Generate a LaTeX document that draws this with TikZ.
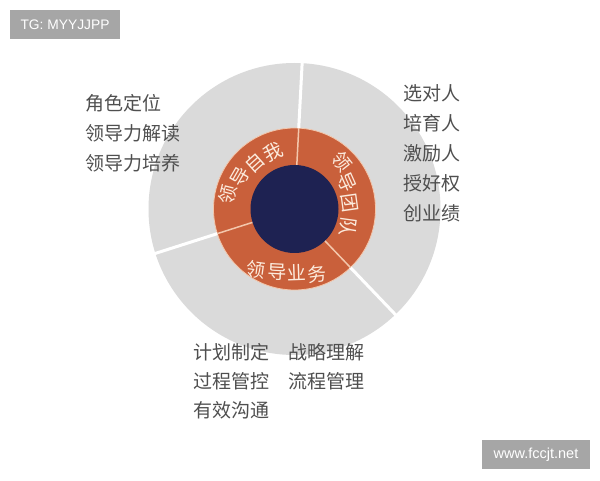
\documentclass[tikz,border=0pt]{standalone}
\usepackage{fontspec}
\setmainfont{Noto Sans CJK SC}
\newfontfamily\wmfont{Liberation Sans}
\usetikzlibrary{calc}
\definecolor{ringgray}{HTML}{DADADA}
\definecolor{ringorange}{HTML}{C9603B}
\definecolor{navy}{HTML}{1E2252}
\definecolor{peach}{HTML}{F3C7AC}
\definecolor{txtgray}{HTML}{4F4F4F}
\definecolor{wmgray}{HTML}{A6A6A6}
\definecolor{ochartxt}{HTML}{FCEBDD}
\begin{document}
\begin{tikzpicture}[x=1pt,y=1pt,
  ochar/.style={text=ochartxt, inner sep=0pt, font=\fontsize{19}{19}\selectfont},
  label/.style={text=txtgray, inner sep=0pt, anchor=west, font=\fontsize{19}{19}\selectfont},
  wm/.style={fill=wmgray, text=white, inner sep=0pt, minimum height=29pt}]
\useasboundingbox (0,0) rectangle (600,480);
\fill[white] (0,0) rectangle (600,480);
\coordinate (C) at (294.5,271);
\fill[ringgray] (C) circle[radius=146];
\fill[ringorange] (C) circle[radius=81];
\draw[peach, line width=0.8] (C) circle[radius=81];
\foreach \a in {87,197.7,313.7} {
  \draw[white, line width=3] ($(C)+(\a:81)$) -- ($(C)+(\a:148)$);
  \draw[peach, line width=1.5] ($(C)+(\a:43)$) -- ($(C)+(\a:81)$);
}
\fill[navy] (C) circle[radius=44];
% ring labels
\node[ochar, rotate=76] (s1) at (228,285) {领};
\node[ochar, rotate=60] (s2) at (240,303) {导};
\node[ochar, rotate=42] (s3) at (255,317) {自};
\node[ochar, rotate=25] (s4) at (273,328) {我};
\node[ochar, rotate=-52] (t1) at (342,318) {领};
\node[ochar, rotate=-66] (t2) at (347,298) {导};
\node[ochar, rotate=-82] (t3) at (350,277) {团};
\node[ochar, rotate=-98] (t4) at (348,253) {队};
\node[ochar, rotate=-8] (b1) at (256,210) {领};
\node[ochar, rotate=-3] (b2) at (277,208) {导};
\node[ochar, rotate=2] (b3) at (297,207) {业};
\node[ochar, rotate=7] (b4) at (317,206) {务};
% outer labels
\node[label] (l1) at (85,377) {角色定位};
\node[label] (l2) at (85,347) {领导力解读};
\node[label] (l3) at (85,317) {领导力培养};
\node[label] (r1) at (403,387) {选对人};
\node[label] (r2) at (403,357) {培育人};
\node[label] (r3) at (403,327) {激励人};
\node[label] (r4) at (403,297) {授好权};
\node[label] (r5) at (403,267) {创业绩};
\node[label] (d1) at (193,128) {计划制定};
\node[label] (d2) at (288,128) {战略理解};
\node[label] (d3) at (193,99) {过程管控};
\node[label] (d4) at (288,99) {流程管理};
\node[label] (d5) at (193,70) {有效沟通};
% watermarks
\node[wm, minimum width=110pt, font=\wmfont\fontsize{13.8}{13.8}\selectfont] (tg) at (65,455.5) {TG: MYYJJPP};
\node[wm, minimum width=108pt, font=\wmfont\fontsize{14.5}{14.5}\selectfont] (www) at (536,25.5) {www.fccjt.net};
\end{tikzpicture}
\end{document}
